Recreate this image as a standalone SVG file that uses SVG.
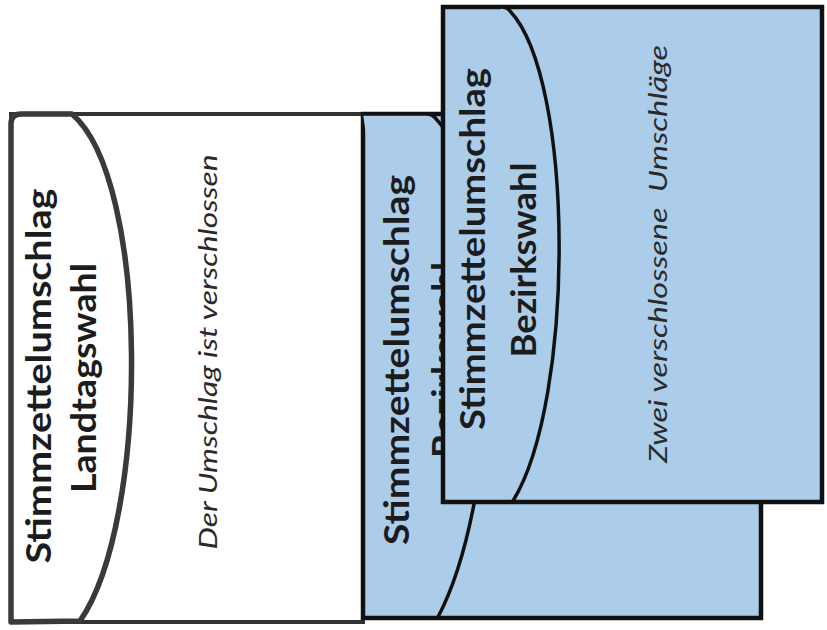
<svg xmlns="http://www.w3.org/2000/svg" width="827" height="630" viewBox="0 0 827 630">
  <style>
    .white-env { fill: #ffffff; stroke: #333333; stroke-width: 4; }
    .white-flap { fill: #ffffff; stroke: #3a3a3a; stroke-width: 5.5; stroke-linejoin: round; }
    .blue-env { fill: #abcdea; stroke: #111111; stroke-width: 4.5; }
    .blue-flap { fill: #abcdea; stroke: #111111; stroke-width: 3.5; stroke-linejoin: round; }
    .title { font-family: Lato, 'Open Sans', 'DejaVu Sans', sans-serif; font-weight: 700; font-size: 34px; fill: #1c1c1c; text-anchor: middle; }
    .note { font-family: Lato, 'Open Sans', 'DejaVu Sans', sans-serif; font-style: italic; font-size: 25px; fill: #2a2a2a; text-anchor: middle; }
  </style>
  <rect x="0" y="0" width="827" height="630" fill="#ffffff"/>

  <g id="envelope-landtagswahl">
    <rect class="white-env" x="11" y="114" width="352" height="508"/>
    <path class="white-flap" d="M 11,622 L 11,124 Q 11,114 21,114 L 72,114 C 150,180 150,520 80,621 Z"/>
    <text class="title" transform="translate(51,376) rotate(-90)" textLength="375" lengthAdjust="spacingAndGlyphs">Stimmzettelumschlag</text>
    <text class="title" transform="translate(96,378) rotate(-90)" textLength="230" lengthAdjust="spacingAndGlyphs">Landtagswahl</text>
    <text class="note" transform="translate(217,352) rotate(-90)" textLength="395" lengthAdjust="spacingAndGlyphs">Der Umschlag ist verschlossen</text>
  </g>

  <g id="envelope-bezirkswahl-back">
    <rect class="blue-env" x="363" y="114" width="398" height="504"/>
    <path class="blue-flap" d="M 363,114 L 426,114 Q 433,114 437,120 C 512,200 500,500 438,617"/>
    <text class="title" transform="translate(409,360) rotate(-90)" textLength="370" lengthAdjust="spacingAndGlyphs">Stimmzettelumschlag</text>
    <text class="title" transform="translate(457,360) rotate(-90)" textLength="196" lengthAdjust="spacingAndGlyphs">Bezirkswahl</text>
  </g>

  <g id="envelope-bezirkswahl-front">
    <rect class="blue-env" x="443" y="7" width="379" height="495"/>
    <path class="blue-flap" d="M 501,7 Q 507,7 510,11 C 575,80 575,400 513,501"/>
    <text class="title" transform="translate(485,249) rotate(-90)" textLength="362" lengthAdjust="spacingAndGlyphs">Stimmzettelumschlag</text>
    <text class="title" transform="translate(536,260) rotate(-90)" textLength="195" lengthAdjust="spacingAndGlyphs">Bezirkswahl</text>
    <text class="note" xml:space="preserve" transform="translate(667,254) rotate(-90)" textLength="418" lengthAdjust="spacingAndGlyphs">Zwei verschlossene  Umschläge</text>
  </g>
</svg>
